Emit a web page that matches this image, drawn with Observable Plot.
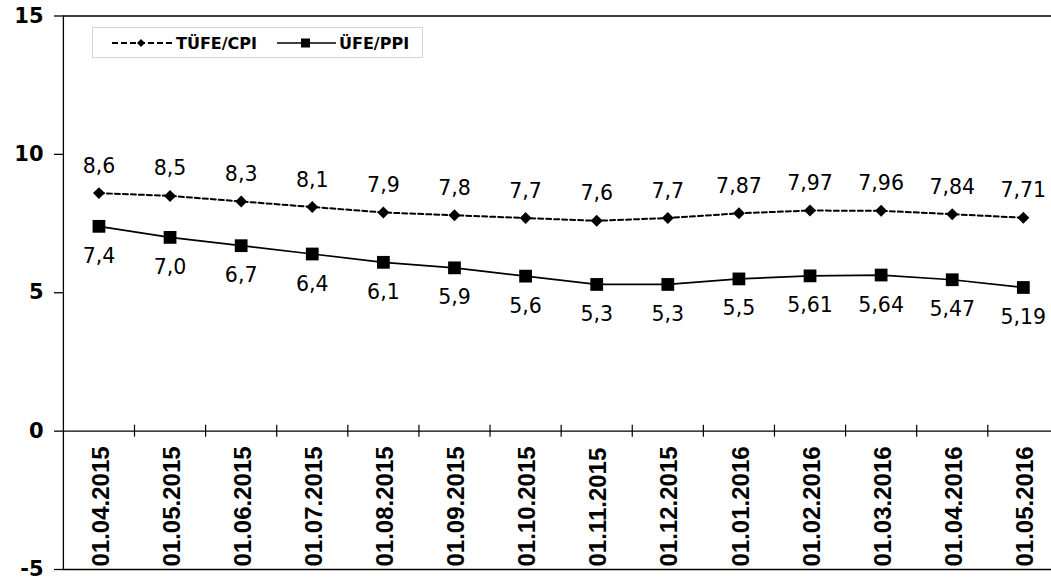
<!DOCTYPE html>
<html>
<head>
<meta charset="utf-8">
<script src="https://cdn.jsdelivr.net/npm/d3@7"></script>
<script src="https://cdn.jsdelivr.net/npm/@observablehq/plot@0.6"></script>
<style>
  html, body { margin: 0; padding: 0; background: #fff; }
  #wrap { position: relative; width: 1051px; height: 583px; overflow: hidden; }
  #legend { position: absolute; left: 92px; top: 27px; width: 331px; height: 31px; box-sizing: border-box;
            border: 1px solid #d4d4d4; background: #fff; }
  #legend svg { display: block; }
</style>
</head>
<body>
<div id="wrap"></div>
<script>
const dates = ["01.04.2015","01.05.2015","01.06.2015","01.07.2015","01.08.2015","01.09.2015","01.10.2015",
               "01.11.2015","01.12.2015","01.01.2016","01.02.2016","01.03.2016","01.04.2016","01.05.2016"];
const cpi = [8.6, 8.5, 8.3, 8.1, 7.9, 7.8, 7.7, 7.6, 7.7, 7.87, 7.97, 7.96, 7.84, 7.71];
const ppi = [7.4, 7.0, 6.7, 6.4, 6.1, 5.9, 5.6, 5.3, 5.3, 5.5, 5.61, 5.64, 5.47, 5.19];
const yTicks = [-5, 0, 5, 10, 15];
const seriesNames = ["TÜFE/CPI", "ÜFE/PPI"];

const rows = dates.map((d, i) => ({i, date: d, cpi: cpi[i], ppi: ppi[i]}));
const bounds = dates.map((d, i) => i + 0.5);
const fmt = v => v.toFixed(Math.round(v * 100) % 10 ? 2 : 1).replace(".", ",");

const chart = Plot.plot({
  width: 1051,
  height: 583,
  marginLeft: 63,
  marginRight: 0,
  marginTop: 15.5,
  marginBottom: 14,
  style: {fontFamily: "DejaVu Sans", background: "white", color: "black", overflow: "visible"},
  x: {type: "linear", domain: [-0.5, dates.length - 0.5], range: [62.9, 1058.4], axis: null},
  y: {domain: [-5, 15], axis: null},
  marks: [
    Plot.ruleY([15, -5], {stroke: "black", strokeWidth: 1.5}),
    Plot.ruleY([0], {stroke: "black", strokeWidth: 1.3}),
    Plot.ruleX([-0.5], {stroke: "black", strokeWidth: 1.3}),
    Plot.axisY(yTicks, {tickSize: 9, tickPadding: 11, fontSize: 21, fontWeight: "bold",
      fontFamily: "DejaVu Sans", tickFormat: d => String(d), label: null, stroke: "black", strokeWidth: 1.3}),
    Plot.ruleX(bounds, {x: d => d, y1: () => 0, y2: () => 0, insetTop: -6, insetBottom: -6, stroke: "black", strokeWidth: 1.2}),
    Plot.text(rows, {x: "i", frameAnchor: "bottom", text: "date", rotate: -90, textAnchor: "start",
      lineAnchor: "middle", dy: -3, dx: 2, fontSize: 24, fontWeight: "bold", fontFamily: "Liberation Sans", fill: "black"}),
    Plot.line(rows, {x: "i", y: "cpi", stroke: "black", strokeWidth: 2, strokeDasharray: "5,3"}),
    Plot.line(rows, {x: "i", y: "ppi", stroke: "black", strokeWidth: 1.7}),
    Plot.dot(rows, {x: "i", y: "cpi", symbol: "diamond2", r: 5.4, fill: "black", stroke: "none"}),
    Plot.dot(rows, {x: "i", y: "ppi", symbol: "square", r: 7.2, fill: "black", stroke: "none"}),
    Plot.text(rows, {x: "i", y: "cpi", text: d => fmt(d.cpi), dy: -27, fontSize: 20.5, fill: "black"}),
    Plot.text(rows, {x: "i", y: "ppi", text: d => fmt(d.ppi), dy: 30, fontSize: 20.5, fill: "black"})
  ]
});

const wrap = document.getElementById("wrap");
wrap.appendChild(chart);

const legend = document.createElement("div");
legend.id = "legend";
legend.innerHTML = `
<svg width="329" height="29" viewBox="0 0 329 29">
  <line x1="19" x2="80" y1="15" y2="15" stroke="black" stroke-width="2.2" stroke-dasharray="6,3"/>
  <path d="M48,11 L52,15 L48,19 L44,15 Z" fill="black"/>
  <text x="83" y="21" font-family="DejaVu Sans" font-weight="bold" font-size="16" fill="black">${seriesNames[0]}</text>
  <line x1="184" x2="243" y1="15" y2="15" stroke="black" stroke-width="1.7"/>
  <rect x="208" y="10.5" width="9" height="9" fill="black"/>
  <text x="246" y="21" font-family="DejaVu Sans" font-weight="bold" font-size="16" fill="black">${seriesNames[1]}</text>
</svg>`;
wrap.appendChild(legend);
</script>
</body>
</html>
